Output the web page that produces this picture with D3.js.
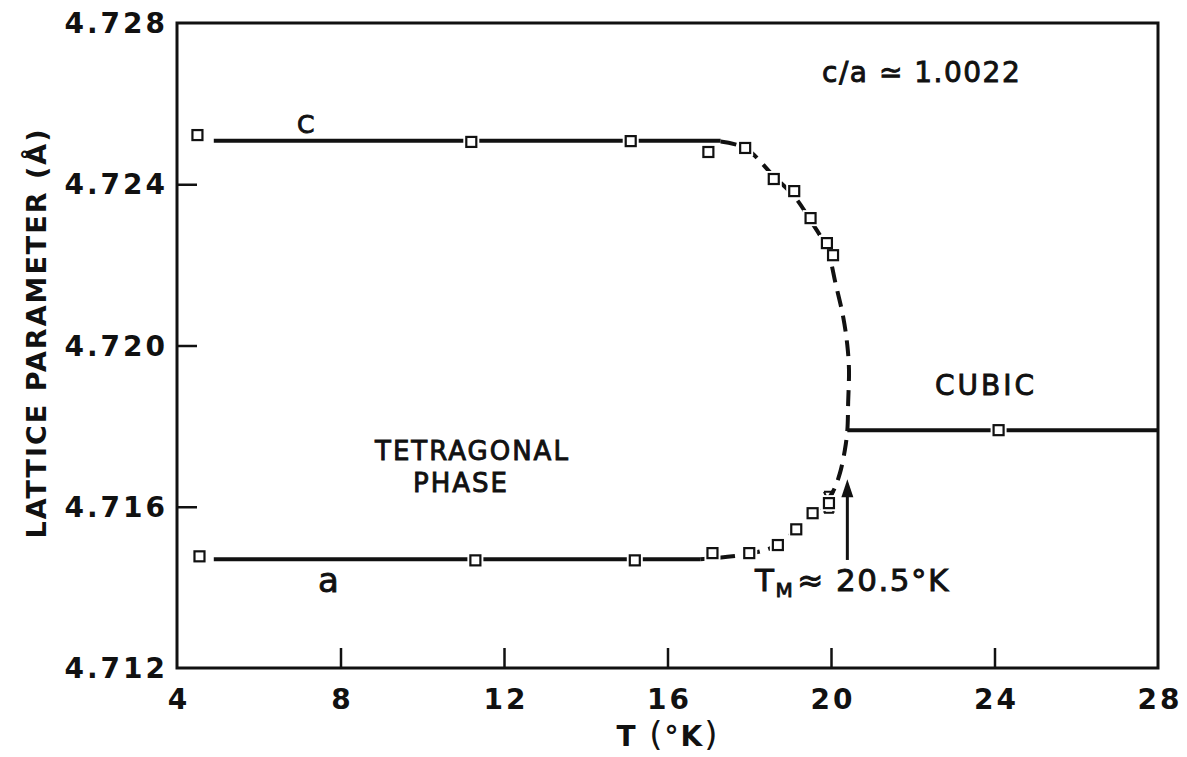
<!DOCTYPE html>
<html><head><meta charset="utf-8">
<script src="https://cdn.jsdelivr.net/npm/d3@7"></script>
<style>
html,body{margin:0;padding:0;background:#fff;}
svg text{font-family:"DejaVu Sans",sans-serif;fill:#111;}
</style></head>
<body><svg id="c" width="1187" height="757"></svg>
<script>
// ---- data ----
const xTicks = [4, 8, 12, 16, 20, 24, 28];
const yTicks = [4.712, 4.716, 4.720, 4.724, 4.728];
const cT   = [4.5, 11.2, 15.1, 17.0, 17.9, 18.6, 19.1, 19.5, 19.9, 20.05];
const cVal = [4.72522, 4.72505, 4.72507, 4.7248, 4.7249, 4.72413, 4.72383, 4.72316, 4.72254, 4.72224];
const aT   = [4.55, 11.3, 15.2, 17.1, 18.0, 18.7, 19.15, 19.55, 19.95];
const aVal = [4.71477, 4.71467, 4.71467, 4.71485, 4.71485, 4.71505, 4.71544, 4.71584, 4.71609];
const aErrLow = [4.71585], aErrHigh = [4.71637], aErrT = [19.95];
const cubicT = [24.1];
const cubicVal = [4.7179];
const cSolidT = [4.9, 17.3], cSolidVal = [4.72508, 4.72508];
const aSolidT = [4.9, 16.8], aSolidVal = [4.7147, 4.7147];
const cubicLineT = [20.4, 28], cubicLineVal = [4.7179, 4.7179];
const guideT   = [17.3, 17.9, 18.6, 19.1, 19.5, 19.9, 20.12, 20.3, 20.4, 20.44, 20.42, 20.4, 20.34, 20.22, 20.06, 19.85, 19.57, 19.16, 18.69, 18.0, 16.8];
const guideVal = [4.72506, 4.7249, 4.7242, 4.7237, 4.7231, 4.7224, 4.7215, 4.7207, 4.7200, 4.7194, 4.7186, 4.7179, 4.71741, 4.71684, 4.71640, 4.71610, 4.71584, 4.71545, 4.71505, 4.71483, 4.7147];
const arrowT = 20.4, arrowFrom = 4.71468, arrowTo = 4.71668;

// ---- scales ----
const svg = d3.select("#c");
const x = d3.scaleLinear().domain([4, 28]).range([177, 1158]);
const y = d3.scaleLinear().domain([4.712, 4.728]).range([668, 23]);

// frame
svg.append("rect").attr("x", x(4)).attr("y", y(4.728))
  .attr("width", x(28) - x(4)).attr("height", y(4.712) - y(4.728))
  .attr("fill", "none").attr("stroke", "#111").attr("stroke-width", 3);

// axes (inward ticks)
const xAxis = d3.axisTop(x).tickValues(xTicks.slice(1, -1)).tickSize(20).tickFormat("");
svg.append("g").attr("transform", `translate(0,${y(4.712)})`).call(xAxis)
  .call(g => { g.select(".domain").remove(); g.selectAll("line").attr("stroke", "#111").attr("stroke-width", 2.5); });
const yAxis = d3.axisRight(y).tickValues(yTicks.slice(1, -1)).tickSize(20).tickFormat("");
svg.append("g").attr("transform", `translate(${x(4)},0)`).call(yAxis)
  .call(g => { g.select(".domain").remove(); g.selectAll("line").attr("stroke", "#111").attr("stroke-width", 2.5); });

// tick labels
svg.append("g").selectAll("text").data(xTicks).join("text")
  .attr("x", d => x(d) + 2).attr("y", 709).attr("text-anchor", "middle")
  .attr("font-size", 28).attr("font-weight", "bold").attr("letter-spacing", 3)
  .text(d => d);
svg.append("g").selectAll("text").data(yTicks).join("text")
  .attr("x", 168).attr("y", d => y(d) + 10).attr("text-anchor", "end")
  .attr("font-size", 28).attr("font-weight", "bold").attr("letter-spacing", 3)
  .text(d => d3.format(".3f")(d));

// axis titles
svg.append("text").attr("transform", "translate(46,333) rotate(-90)")
  .attr("text-anchor", "middle").attr("font-size", 27).attr("font-weight", "bold")
  .attr("letter-spacing", 2).text("LATTICE PARAMETER (Å)");
const xt = svg.append("text").attr("x", 668).attr("y", 746).attr("text-anchor", "middle")
  .attr("font-size", 28).attr("font-weight", "bold").attr("letter-spacing", 2);
xt.append("tspan").text("T ");
xt.append("tspan").attr("font-size", 34).attr("font-weight", "normal").text("(");
xt.append("tspan").text("°K");
xt.append("tspan").attr("font-size", 34).attr("font-weight", "normal").text(")");

// lines
const line = d3.line().x(d => x(d[0])).y(d => y(d[1]));
const zip = (a, b) => a.map((v, i) => [v, b[i]]);
svg.append("path").attr("d", line(zip(cSolidT, cSolidVal))).attr("stroke", "#111").attr("stroke-width", 4).attr("fill", "none");
svg.append("path").attr("d", line(zip(aSolidT, aSolidVal))).attr("stroke", "#111").attr("stroke-width", 4).attr("fill", "none");
svg.append("path").attr("d", line(zip(cubicLineT, cubicLineVal))).attr("stroke", "#111").attr("stroke-width", 4).attr("fill", "none");
svg.append("path").attr("d", line.curve(d3.curveCatmullRom.alpha(0.5))(zip(guideT, guideVal)))
  .attr("stroke", "#111").attr("stroke-width", 4).attr("fill", "none").attr("stroke-dasharray", "16 9");
line.curve(d3.curveLinear);

// arrow
svg.append("line").attr("x1", x(arrowT)).attr("x2", x(arrowT)).attr("y1", y(arrowFrom)).attr("y2", y(arrowTo) + 14)
  .attr("stroke", "#111").attr("stroke-width", 3);
svg.append("path").attr("d", `M${x(arrowT)},${y(arrowTo)} l-6,18 l12,0 z`).attr("fill", "#111");

// error bar on last a point
aErrT.forEach((t, i) => {
  const cx = x(t), y1 = y(aErrHigh[i]), y2 = y(aErrLow[i]);
  svg.append("path").attr("d", `M${cx-5},${y1} h10 M${cx-5},${y2} h10 M${cx-5},${y1} L${cx+5},${y2} M${cx+5},${y1} L${cx-5},${y2}`)
    .attr("stroke", "#111").attr("stroke-width", 2).attr("fill", "none");
});

// markers
const pts = zip(cT, cVal).concat(zip(aT, aVal), zip(cubicT, cubicVal));
svg.append("g").selectAll("rect.halo").data(pts).join("rect")
  .attr("x", d => x(d[0]) - 8).attr("y", d => y(d[1]) - 8).attr("width", 16).attr("height", 16).attr("fill", "#fff");
svg.append("g").selectAll("rect.pt").data(pts).join("rect")
  .attr("x", d => x(d[0]) - 5).attr("y", d => y(d[1]) - 5).attr("width", 10).attr("height", 10)
  .attr("fill", "#fff").attr("stroke", "#111").attr("stroke-width", 2.2);

// annotations
const ann = (tx, ty, s, fs, ls) => svg.append("text").attr("x", tx).attr("y", ty).attr("font-size", fs)
  .attr("letter-spacing", ls).attr("stroke", "#111").attr("stroke-width", 0.9).text(s);
ann(822, 82, "c/a ≃ 1.0022", 28, 1.5);
ann(297, 133, "C", 25, 0);
ann(318, 592, "a", 34, 0);
ann(935, 395, "CUBIC", 28, 3);
ann(375, 460, "TETRAGONAL", 26, 2);
ann(413, 492, "PHASE", 26, 2);
const tm = svg.append("text").attr("x", 755).attr("y", 591).attr("font-size", 31).attr("letter-spacing", 1.5)
  .attr("stroke", "#111").attr("stroke-width", 0.9);
tm.append("tspan").text("T");
tm.append("tspan").attr("font-size", 20).attr("dy", 6).text("M");
tm.append("tspan").attr("dy", -6).attr("dx", 3).text("≈ 20.5°K");
</script></body></html>
